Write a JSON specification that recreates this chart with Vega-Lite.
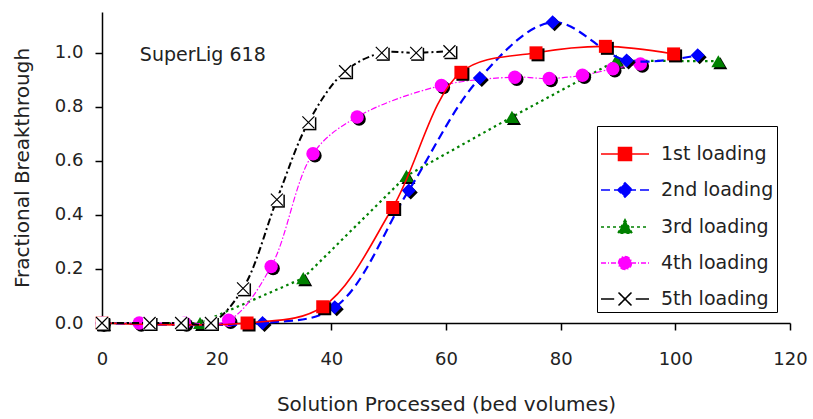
{
  "$schema": "https://vega.github.io/schema/vega-lite/v6.json",
  "width": 688,
  "height": 311,
  "autosize": "none",
  "padding": {"left": 102, "top": 12, "right": 23, "bottom": 96},
  "background": "white",
  "config": {
    "view": {"stroke": null},
    "font": "DejaVu Sans",
    "axis": {"grid": false, "domainColor": "black", "tickColor": "black", "labelColor": "#222", "titleColor": "#222", "labelFont": "DejaVu Sans", "titleFont": "DejaVu Sans", "titleFontWeight": "normal", "labelFontSize": 18, "titleFontSize": 20, "tickSize": 7, "domainWidth": 1.5, "tickWidth": 1.5, "labelFlush": false}
  },
  "data": {"values": [
    {"series": "1st loading", "x": 0, "y": 0},
    {"series": "1st loading", "x": 25.3, "y": 0},
    {"series": "1st loading", "x": 38.5, "y": 0.06},
    {"series": "1st loading", "x": 50.7, "y": 0.427},
    {"series": "1st loading", "x": 62.6, "y": 0.927},
    {"series": "1st loading", "x": 75.7, "y": 0.999},
    {"series": "1st loading", "x": 87.8, "y": 1.023},
    {"series": "1st loading", "x": 99.7, "y": 0.995},
    {"series": "2nd loading", "x": 0, "y": 0},
    {"series": "2nd loading", "x": 28.0, "y": 0},
    {"series": "2nd loading", "x": 40.6, "y": 0.058},
    {"series": "2nd loading", "x": 53.5, "y": 0.49},
    {"series": "2nd loading", "x": 65.9, "y": 0.906},
    {"series": "2nd loading", "x": 78.6, "y": 1.112},
    {"series": "2nd loading", "x": 91.5, "y": 0.971},
    {"series": "2nd loading", "x": 103.9, "y": 0.99},
    {"series": "3rd loading", "x": 0, "y": 0},
    {"series": "3rd loading", "x": 17.1, "y": 0},
    {"series": "3rd loading", "x": 35.1, "y": 0.166},
    {"series": "3rd loading", "x": 53.1, "y": 0.544},
    {"series": "3rd loading", "x": 71.5, "y": 0.762},
    {"series": "3rd loading", "x": 89.7, "y": 0.97},
    {"series": "3rd loading", "x": 107.5, "y": 0.968},
    {"series": "4th loading", "x": 0, "y": 0},
    {"series": "4th loading", "x": 6.5, "y": 0},
    {"series": "4th loading", "x": 14.4, "y": 0},
    {"series": "4th loading", "x": 22.1, "y": 0.01},
    {"series": "4th loading", "x": 29.5, "y": 0.209},
    {"series": "4th loading", "x": 36.8, "y": 0.626},
    {"series": "4th loading", "x": 44.5, "y": 0.762},
    {"series": "4th loading", "x": 59.2, "y": 0.878},
    {"series": "4th loading", "x": 72.0, "y": 0.909},
    {"series": "4th loading", "x": 78.0, "y": 0.904},
    {"series": "4th loading", "x": 83.8, "y": 0.916},
    {"series": "4th loading", "x": 89.1, "y": 0.94},
    {"series": "4th loading", "x": 93.9, "y": 0.958},
    {"series": "5th loading", "x": 0, "y": 0},
    {"series": "5th loading", "x": 8.3, "y": 0},
    {"series": "5th loading", "x": 13.8, "y": 0},
    {"series": "5th loading", "x": 19.0, "y": 0},
    {"series": "5th loading", "x": 24.6, "y": 0.128},
    {"series": "5th loading", "x": 30.5, "y": 0.456},
    {"series": "5th loading", "x": 36.0, "y": 0.742},
    {"series": "5th loading", "x": 42.4, "y": 0.931},
    {"series": "5th loading", "x": 48.8, "y": 0.999},
    {"series": "5th loading", "x": 54.8, "y": 0.999},
    {"series": "5th loading", "x": 60.6, "y": 1.005}
  ]},
  "encoding": {
    "x": {"field": "x", "type": "quantitative", "scale": {"domain": [0, 120], "nice": false, "zero": false}, "axis": {"values": [0, 20, 40, 60, 80, 100, 120], "title": "Solution Processed (bed volumes)", "labelPadding": 20, "titlePadding": 26}},
    "y": {"field": "y", "type": "quantitative", "scale": {"domain": [0, 1.15], "nice": false}, "axis": {"values": [0, 0.2, 0.4, 0.6, 0.8, 1.0], "format": ".1f", "title": "Fractional Breakthrough", "labelPadding": 12, "titlePadding": 22}}
  },
  "layer": [
    {
      "transform": [{"filter": "datum.series === '3rd loading'"}],
      "layer": [
        {"mark": {"type": "line", "color": "#008000", "strokeWidth": 2.2, "strokeDash": [2.5, 3.5]}},
        {"mark": {"type": "point", "shape": "triangle-up", "filled": true, "size": 196, "color": "black", "opacity": 1, "xOffset": 2, "yOffset": 2}},
        {"mark": {"type": "point", "shape": "triangle-up", "filled": true, "size": 196, "color": "#008000", "opacity": 1}}
      ]
    },
    {
      "transform": [{"filter": "datum.series === '4th loading'"}],
      "layer": [
        {"mark": {"type": "line", "color": "#FF00FF", "strokeWidth": 1.2, "strokeDash": [6, 2, 1.5, 2], "interpolate": "catmull-rom"}},
        {"mark": {"type": "point", "shape": "circle", "filled": true, "size": 180, "color": "black", "opacity": 1, "xOffset": 2, "yOffset": 2}},
        {"mark": {"type": "point", "shape": "circle", "filled": true, "size": 180, "color": "#FF00FF", "opacity": 1}}
      ]
    },
    {
      "transform": [{"filter": "datum.series === '2nd loading'"}],
      "layer": [
        {"mark": {"type": "line", "color": "#0000FF", "strokeWidth": 2.2, "strokeDash": [9, 5], "interpolate": "catmull-rom"}},
        {"mark": {"type": "point", "shape": "diamond", "filled": true, "size": 196, "color": "black", "opacity": 1, "xOffset": 2, "yOffset": 2}},
        {"mark": {"type": "point", "shape": "diamond", "filled": true, "size": 196, "color": "#0000FF", "opacity": 1}}
      ]
    },
    {
      "transform": [{"filter": "datum.series === '1st loading'"}],
      "layer": [
        {"mark": {"type": "line", "color": "#FF0000", "strokeWidth": 1.6, "interpolate": "catmull-rom"}},
        {"mark": {"type": "point", "shape": "square", "filled": true, "size": 169, "color": "black", "opacity": 1, "xOffset": 2, "yOffset": 2}},
        {"mark": {"type": "point", "shape": "square", "filled": true, "size": 169, "color": "#FF0000", "opacity": 1}}
      ]
    },
    {
      "transform": [{"filter": "datum.series === '5th loading'"}],
      "layer": [
        {"mark": {"type": "line", "color": "black", "strokeWidth": 2, "strokeDash": [7, 3, 2, 3], "interpolate": "catmull-rom"}},
        {"mark": {"type": "point", "shape": "square", "filled": true, "size": 169, "color": "black", "opacity": 1, "xOffset": 1.5, "yOffset": 1.5}},
        {"mark": {"type": "point", "shape": "square", "filled": true, "size": 169, "color": "white", "opacity": 1}},
        {"mark": {"type": "point", "shape": "M-1,-1L1,1M-1,1L1,-1", "filled": false, "size": 144, "color": "black", "strokeWidth": 1.2, "opacity": 1}}
      ]
    },
    {
      "data": {"values": [{"label": "SuperLig 618", "x": 6.6, "y": 0.99}]},
      "mark": {"type": "text", "align": "left", "baseline": "middle", "font": "DejaVu Sans", "fontSize": 19, "color": "#222"},
      "encoding": {"text": {"field": "label"}}
    },
    {
      "transform": [{"filter": "false"}],
      "mark": {"type": "point", "filled": true, "opacity": 1},
      "encoding": {
        "fill": {"field": "series", "type": "nominal", "scale": {"domain": ["1st loading", "2nd loading", "3rd loading", "4th loading", "5th loading"], "range": ["#FF0000", "#0000FF", "#008000", "#FF00FF", "transparent"]}},
        "stroke": {"field": "series", "type": "nominal", "scale": {"domain": ["1st loading", "2nd loading", "3rd loading", "4th loading", "5th loading"], "range": ["#FF0000", "#0000FF", "#008000", "#FF00FF", "black"]}},
        "strokeDash": {"field": "series", "type": "nominal", "scale": {"domain": ["1st loading", "2nd loading", "3rd loading", "4th loading", "5th loading"], "range": [[1, 0], [9, 4], [3, 3], [5, 2, 1, 2], [1, 0]]}},
        "shape": {"field": "series", "type": "nominal", "scale": {"domain": ["1st loading", "2nd loading", "3rd loading", "4th loading", "5th loading"], "range": [
          "M-1,0L1,0M-0.27,-0.27L0.27,-0.27L0.27,0.27L-0.27,0.27Z",
          "M-1,0L1,0M0,-0.3L0.3,0L0,0.3L-0.3,0Z",
          "M-1,0L1,0M0,-0.3L0.3,0.26L-0.3,0.26Z",
          "M-1,0L1,0M-0.27,0A0.27,0.27,0,1,1,0.27,0A0.27,0.27,0,1,1,-0.27,0Z",
          "M-1,0L-0.45,0M0.45,0L1,0M-0.27,-0.27L0.27,0.27M-0.27,0.27L0.27,-0.27"
        ]}, "legend": {
          "title": null, "orient": "none", "legendX": 495, "legendY": 114,
          "strokeColor": "black", "fillColor": "white", "padding": 3,
          "symbolSize": 2304, "symbolStrokeWidth": 1.6, "symbolOpacity": 1,
          "labelFont": "DejaVu Sans", "labelFontSize": 19, "labelColor": "#222", "labelOffset": 11,
          "rowPadding": 1
        }}
      }
    }
  ]
}
